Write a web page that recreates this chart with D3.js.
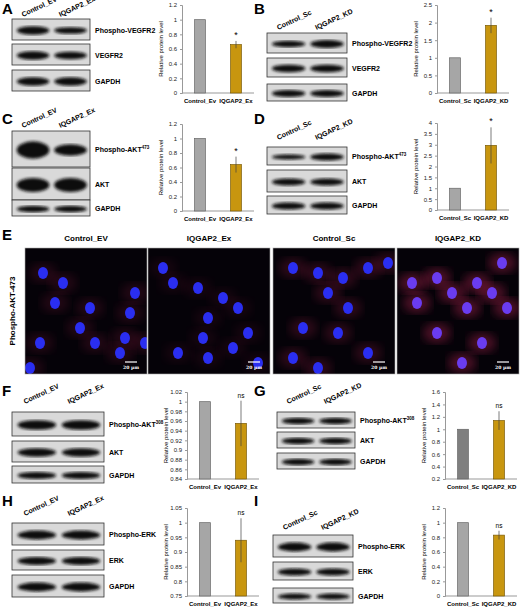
<!DOCTYPE html><html><head><meta charset="utf-8">
<script src="https://cdn.jsdelivr.net/npm/d3@7"></script>
<style>body{margin:0;background:#fff}text{font-family:"Liberation Sans",Arial,sans-serif;font-weight:bold}</style>
</head><body><svg id="s" width="520" height="609"></svg>
<script>
// ---- data ----
const catsEx=["Control_Ev","IQGAP2_Ex"], catsKD=["Control_Sc","IQGAP2_KD"];
const valA=[1,0.66], errA=[0,0.05], ticksA=[0,0.2,0.4,0.6,0.8,1,1.2];
const valB=[1,1.92], errB=[0,0.22], ticksB=[0,0.5,1,1.5,2,2.5];
const valC=[1,0.64], errC=[0,0.11], ticksC=[0,0.2,0.4,0.6,0.8,1,1.2];
const valD=[1,2.97], errD=[0,0.83], ticksD=[0,0.5,1,1.5,2,2.5,3,3.5,4];
const valF=[1,0.955], errF=[0,0.047], ticksF=[0.84,0.86,0.88,0.9,0.92,0.94,0.96,0.98,1,1.02];
const valG=[1,1.14], errG=[0,0.15], ticksG=[0.2,0.4,0.6,0.8,1,1.2,1.4,1.6];
const valH=[1,0.94], errH=[0,0.075], ticksH=[0.75,0.8,0.85,0.9,0.95,1,1.05];
const valI=[1,0.83], errI=[0,0.06], ticksI=[0,0.2,0.4,0.6,0.8,1,1.2];
const sigA="*",sigB="*",sigC="*",sigD="*",sigF="ns",sigG="ns",sigH="ns",sigI="ns";
const imgTitles=["Control_EV","IQGAP2_Ex","Control_Sc","IQGAP2_KD"];

const svg=d3.select("#s");
const fmt=v=>String(+v.toFixed(2));
function chart(x0,yTop,yBot,ticks,vals,errs,cats,sig,c0){
  const y=d3.scaleLinear().domain([ticks[0],ticks[ticks.length-1]]).range([yBot,yTop]);
  const x=d3.scaleBand().domain(cats).range([x0,x0+72]).paddingInner(0.7).paddingOuter(0.35);
  const g=svg.append("g");
  const ax=g.append("g").attr("transform",`translate(${x0},0)`).call(d3.axisLeft(y).tickValues(ticks).tickFormat(fmt).tickSize(2));
  ax.selectAll("text").style("font-size","6px").style("font-weight","normal").attr("fill","#222");
  ax.select(".domain").attr("stroke","#999");ax.selectAll(".tick line").attr("stroke","#999");
  g.append("line").attr("x1",x0).attr("x2",x0+72).attr("y1",yBot).attr("y2",yBot).attr("stroke","#999");
  g.selectAll(".b").data(vals).join("rect").attr("x",(d,i)=>x(cats[i])).attr("width",x.bandwidth())
   .attr("y",d=>y(d)).attr("height",d=>yBot-y(d)).attr("fill",(d,i)=>i?"#c8960f":c0).attr("stroke",(d,i)=>i?"#7a5a05":"#666").attr("stroke-width",0.7);
  const cx=x(cats[1])+x.bandwidth()/2;
  g.append("line").attr("x1",cx).attr("x2",cx).attr("y1",y(vals[1]+errs[1])).attr("y2",y(Math.max(ticks[0],vals[1]-errs[1]))).attr("stroke","#444").attr("stroke-width",0.7);
  g.append("text").attr("x",cx).attr("y",y(vals[1]+errs[1])-3).attr("text-anchor","middle").style("font-size",sig=="*"?"9px":"6.5px").style("font-weight","normal").text(sig);
  g.selectAll(".l").data(cats).join("text").attr("x",d=>x(d)+x.bandwidth()/2).attr("y",yBot+10).attr("text-anchor","middle").style("font-size","6px").text(d=>d);
  g.append("text").attr("transform",`translate(${x0-19},${(yTop+yBot)/2}) rotate(-90)`).attr("text-anchor","middle").style("font-size","6px").style("font-weight","normal").text("Relative protein level");
}
// blots
const defs=svg.append("defs");
defs.append("filter").attr("id","bl").append("feGaussianBlur").attr("stdDeviation",1.6);
function blot(x0,w,boxes,labels,sup,cols,colY){
  boxes.forEach((b,i)=>{
    const g=svg.append("g");
    g.append("rect").attr("x",x0).attr("y",b[0]).attr("width",w).attr("height",b[1]).attr("fill","#d9d9d9").attr("stroke","#333").attr("stroke-width",0.8);
    [0,1].forEach(k=>g.append("ellipse").attr("cx",x0+w*(0.27+0.48*k)).attr("cy",b[0]+b[1]/2+1).attr("rx",w*0.21).attr("ry",b[1]*0.2*b[2+k]).attr("fill","#111").attr("filter","url(#bl)"));
    const t=g.append("text").attr("x",x0+w+5).attr("y",b[0]+b[1]/2+3).style("font-size","7px").text(labels[i]);
    if(i==0&&sup) t.append("tspan").attr("dy",-3).style("font-size","4.5px").text(sup);
  });
  cols.forEach((c,k)=>svg.append("text").attr("transform",`translate(${x0+w*(0.14+0.48*k)},${colY}) rotate(-25)`).style("font-size","7px").text(c));
}
function letter(x,y,t){svg.append("text").attr("x",x).attr("y",y).style("font-size","15px").text(t);}
letter(2,14,"A");letter(254,14,"B");letter(2,124,"C");letter(254,124,"D");letter(2,240,"E");letter(2,396,"F");letter(254,396,"G");letter(2,506,"H");letter(254,506,"I");

blot(12,78,[[19,21,1,0.8],[44,21,1,0.9],[70,21,1,1]],["Phospho-VEGFR2","VEGFR2","GAPDH"],"",["Control_EV","IQGAP2_Ex"],17);
blot(267,80,[[33,20,0.8,1],[58,19,1,1],[84,17,1,1]],["Phospho-VEGFR2","VEGFR2","GAPDH"],"",["Control_Sc","IQGAP2_KD"],30);
blot(12,78,[[131,36,1.2,0.8],[168,32,1.1,1.1],[200,16,1,1]],["Phospho-AKT","AKT","GAPDH"],"473",["Control_EV","IQGAP2_Ex"],128);
blot(267,80,[[147,18,0.7,1],[170,22,0.8,0.8],[196,18,1,1]],["Phospho-AKT","AKT","GAPDH"],"473",["Control_Sc","IQGAP2_KD"],140);
blot(12,92,[[412,24,1,1],[441,21,1,1],[466,17,1,1]],["Phospho-AKT","AKT","GAPDH"],"308",["Control_EV","IQGAP2_Ex"],404);
blot(277,78,[[412,16,1,1],[432,16,1,1],[453,16,1,1]],["Phospho-AKT","AKT","GAPDH"],"308",["Control_Sc","IQGAP2_KD"],404);
blot(12,92,[[523,22,1,1],[550,20,1,1],[575,22,1,1]],["Phospho-ERK","ERK","GAPDH"],"",["Control_EV","IQGAP2_Ex"],516);
blot(273,80,[[535,22,1,1],[562,18,1,1],[588,15,1,1]],["Phospho-ERK","ERK","GAPDH"],"",["Control_Sc","IQGAP2_KD"],530);

chart(182,5,93,ticksA,valA,errA,catsEx,sigA,"#a6a6a6");
chart(437,5,93,ticksB,valB,errB,catsKD,sigB,"#a6a6a6");
chart(182,124,211,ticksC,valC,errC,catsEx,sigC,"#a6a6a6");
chart(437,123,210,ticksD,valD,errD,catsKD,sigD,"#a6a6a6");
chart(187,392,479,ticksF,valF,errF,catsEx,sigF,"#a6a6a6");
chart(445,392,479,ticksG,valG,errG,catsKD,sigG,"#7f7f7f");
chart(187,508,596,ticksH,valH,errH,catsEx,sigH,"#a6a6a6");
chart(445,508,596,ticksI,valI,errI,catsKD,sigI,"#a6a6a6");

// E microscopy panels
const imgX=[25,148,273,397], imgW=122, imgY=248, imgH=126;
const nuclei=[
 [[18,25],[38,35],[30,55],[65,60],[110,45],[105,65],[55,80],[70,95],[15,95],[100,90],[95,105],[120,95],[5,120]],
 [[15,20],[25,35],[50,40],[60,70],[75,50],[90,60],[30,105],[60,110],[85,100],[100,85],[55,90],[110,115]],
 [[20,20],[45,25],[70,30],[95,20],[115,15],[55,45],[75,60],[65,85],[30,80],[20,110],[95,105],[45,120]],
 [[15,35],[40,30],[55,45],[80,35],[95,45],[70,60],[110,60],[40,85],[85,95],[65,115],[20,55],[105,15]]];
const redLevel=[0.18,0.1,0.25,0.45];
defs.append("filter").attr("id","bl2").append("feGaussianBlur").attr("stdDeviation",5);
imgX.forEach((x,i)=>{
  const g=svg.append("g");
  g.append("clipPath").attr("id","c"+i).append("rect").attr("x",x).attr("y",imgY).attr("width",imgW).attr("height",imgH);
  const gi=g.append("g").attr("clip-path",`url(#c${i})`);
  gi.append("rect").attr("x",x).attr("y",imgY).attr("width",imgW).attr("height",imgH).attr("fill","#050208");
  gi.append("g").selectAll("ellipse").data(nuclei[i]).join("ellipse").attr("cx",d=>x+d[0]).attr("cy",d=>imgY+d[1]).attr("rx",14).attr("ry",10).attr("fill","#a0204a").attr("opacity",redLevel[i]).attr("filter","url(#bl2)");
  gi.selectAll(".n").data(nuclei[i]).join("ellipse").attr("cx",d=>x+d[0]).attr("cy",d=>imgY+d[1]).attr("rx",5).attr("ry",6).attr("fill",i==3?"#6a3cf0":"#2a2ef0");
  g.append("rect").attr("x",x).attr("y",imgY).attr("width",imgW).attr("height",imgH).attr("fill","none").attr("stroke","#aaa").attr("stroke-width",0.6);
  g.append("line").attr("x1",x+imgW-22).attr("x2",x+imgW-10).attr("y1",imgY+imgH-12).attr("y2",imgY+imgH-12).attr("stroke","#fff").attr("stroke-width",1.2);
  g.append("text").attr("x",x+imgW-16).attr("y",imgY+imgH-5).attr("text-anchor","middle").attr("fill","#fff").style("font-size","4.5px").style("font-family","DejaVu Serif").text("20 µm");
  svg.append("text").attr("x",x+imgW/2).attr("y",241).attr("text-anchor","middle").style("font-size","8px").text(imgTitles[i]);
});
svg.append("text").attr("transform",`translate(15,${imgY+imgH/2}) rotate(-90)`).attr("text-anchor","middle").style("font-size","8px").text("Phospho-AKT-473");
</script></body></html>
